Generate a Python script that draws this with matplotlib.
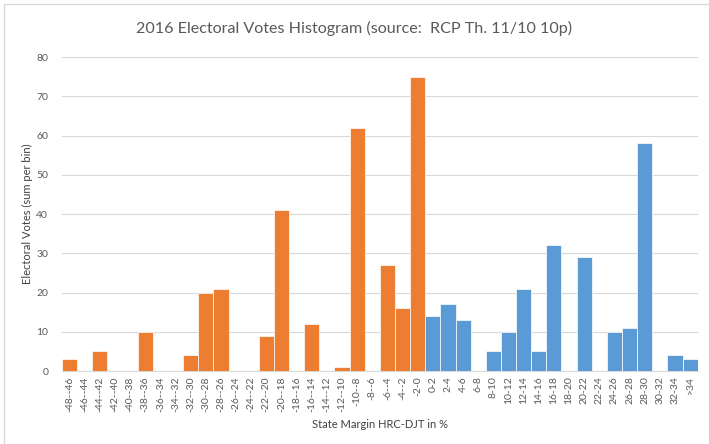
import matplotlib
matplotlib.use("Agg")
import matplotlib.pyplot as plt
from matplotlib.patches import Rectangle

categories = ["-48--46", "-46--44", "-44--42", "-42--40", "-40--38", "-38--36", "-36--34",
              "-34--32", "-32--30", "-30--28", "-28--26", "-26--24", "-24--22", "-22--20",
              "-20--18", "-18--16", "-16--14", "-14--12", "-12--10", "-10--8", "-8--6",
              "-6--4", "-4--2", "-2-0", "0-2", "2-4", "4-6", "6-8", "8-10", "10-12",
              "12-14", "14-16", "16-18", "18-20", "20-22", "22-24", "24-26", "26-28",
              "28-30", "30-32", "32-34", ">34"]
votes = [3, 0, 5, 0, 0, 10, 0, 0, 4, 20, 21, 0, 0, 9, 41, 0, 12, 0, 1, 62, 0,
         27, 16, 75, 14, 17, 13, 0, 5, 10, 21, 5, 32, 0, 29, 0, 10, 11, 58, 0, 4, 3]
party = ["DJT"] * 24 + ["HRC"] * 18

colors = {"DJT": "#ED7D31", "HRC": "#5B9BD5"}

plt.rcParams['font.family'] = ['Lato', 'DejaVu Sans']
fig = plt.figure(figsize=(7.09, 4.44), dpi=100)
ax = fig.add_axes([0.0875, 0.1644, 0.8965, 0.7072])

x = list(range(len(categories)))
ax.bar(x, votes, width=1.0, color=[colors[p] for p in party],
       edgecolor="white", linewidth=0.5, zorder=3)

ax.set_xlim(-0.5, len(categories) - 0.5)
ax.set_ylim(0, 80)
ax.set_yticks(range(0, 81, 10))
ax.set_xticks(x)
ax.set_xticklabels(categories, rotation=90, fontsize=7.5, color="#595959")
ax.tick_params(axis="y", labelsize=7.5, colors="#595959", length=0, pad=10)
ax.tick_params(axis="x", length=0, pad=4)
ax.grid(axis="y", color="#D9D9D9", linewidth=0.8, zorder=0)
for s in ["top", "right", "left"]:
    ax.spines[s].set_visible(False)
ax.spines["bottom"].set_color("#D9D9D9")

ax.set_ylabel("Electoral Votes (sum per bin)", fontsize=8, color="#404040", labelpad=2)
ax.set_xlabel("State Margin HRC-DJT in %", fontsize=8, color="#404040", labelpad=5)
fig.text(0.5, 0.937, "2016 Electoral Votes Histogram (source:  RCP Th. 11/10 10p)",
         ha="center", va="center", fontsize=11.6, color="#595959")

fig.patches.append(Rectangle((0.006, -0.05), 1.1, 1.04, transform=fig.transFigure,
                             fill=False, edgecolor="#D9D9D9", linewidth=1.0))

fig.savefig("out.png", dpi=100)
